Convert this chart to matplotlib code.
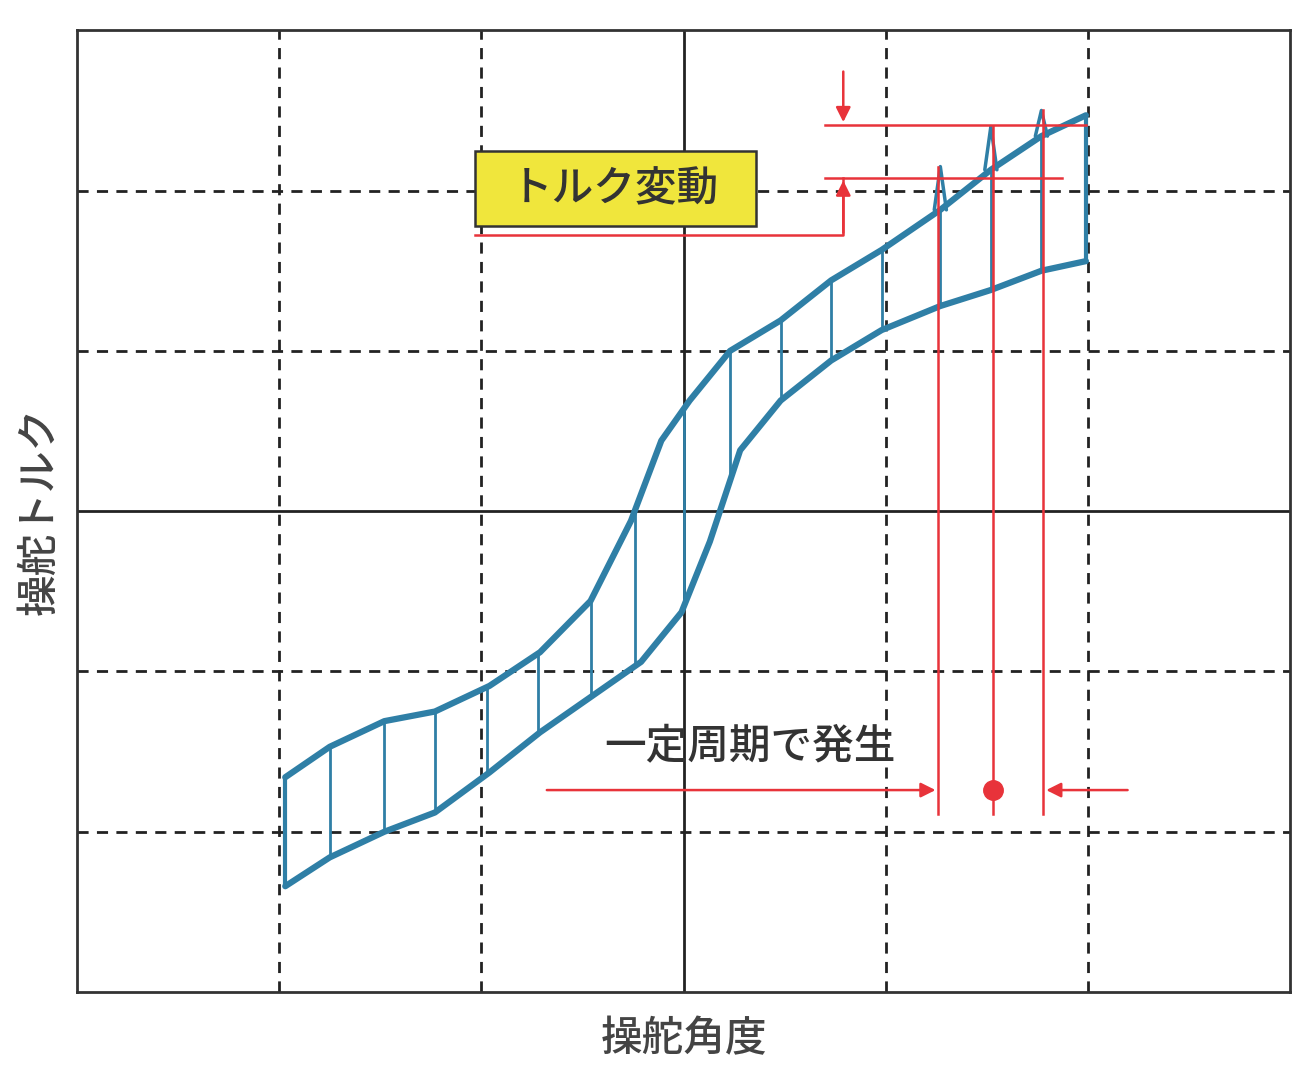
import numpy as np
import matplotlib.pyplot as plt
from matplotlib.patches import Rectangle

plt.rcParams['font.family'] = ['Noto Sans CJK JP', 'DejaVu Sans']

# hysteresis branches (grid units)
upper_x = [-1.97, -1.75, -1.48, -1.23, -0.96, -0.71, -0.46, -0.26, -0.11, 0.03, 0.23, 0.48, 0.73, 0.98, 1.27, 1.52, 1.77, 1.99]
upper_y = [-1.66, -1.47, -1.31, -1.25, -1.09, -0.88, -0.56, -0.06, 0.44, 0.69, 1.0, 1.19, 1.44, 1.63, 1.88, 2.13, 2.34, 2.47]
lower_x = [-1.97, -1.75, -1.48, -1.23, -0.96, -0.71, -0.46, -0.21, -0.01, 0.13, 0.28, 0.48, 0.73, 0.98, 1.27, 1.52, 1.77, 1.99]
lower_y = [-2.34, -2.16, -2.0, -1.88, -1.63, -1.38, -1.16, -0.94, -0.63, -0.19, 0.38, 0.69, 0.94, 1.13, 1.28, 1.38, 1.5, 1.56]
rung_x = [-1.75, -1.48, -1.23, -0.97, -0.72, -0.46, -0.24, 0.0, 0.23, 0.48, 0.73, 0.98, 1.27, 1.52, 1.77]
spike_x = [1.27, 1.52, 1.77]
spike_y = [2.15, 2.4, 2.5]
period_x = [1.26, 1.53, 1.78]

LINE = '#2f7fa6'
RED = '#e8333a'

fig = plt.figure(figsize=(13.1, 10.83), dpi=100)
ax = fig.add_axes([0.0588, 0.084, 0.926, 0.888])
ax.set_xlim(-3, 3)
ax.set_ylim(-3, 3)
ax.set_xticks([])
ax.set_yticks([])
for s in ax.spines.values():
    s.set_color('#333333')
    s.set_linewidth(2)

for v in [-2, -1, 1, 2]:
    ax.axvline(v, color='#222222', lw=2, ls=(0, (4, 3)), zorder=1)
    ax.axhline(v, color='#222222', lw=2, ls=(0, (4, 3)), zorder=1)
ax.axvline(0, color='#222222', lw=2, zorder=1)
ax.axhline(0, color='#222222', lw=2, zorder=1)

# loop
kw = dict(color=LINE, solid_joinstyle='round', solid_capstyle='round', zorder=3)
ax.plot(upper_x, upper_y, lw=4.5, **kw)
ax.plot(lower_x, lower_y, lw=4.5, **kw)
ax.plot([upper_x[0], lower_x[0]], [upper_y[0], lower_y[0]], lw=3, **kw)
ax.plot([upper_x[-1], lower_x[-1]], [upper_y[-1], lower_y[-1]], lw=3, **kw)
for rx in rung_x:
    yu = np.interp(rx, upper_x, upper_y)
    yl = np.interp(rx, lower_x, lower_y)
    ax.plot([rx, rx], [yl, yu], lw=2, **kw)
for sx, sy in zip(spike_x, spike_y):
    yu = np.interp(sx, upper_x, upper_y)
    ax.plot([sx - 0.03, sx, sx + 0.03], [yu, sy, yu], lw=2.5, **kw)

# torque variation annotation
ax.plot([0.70, 1.99], [2.41, 2.41], color=RED, lw=1.8, zorder=4)
ax.plot([0.70, 1.87], [2.08, 2.08], color=RED, lw=1.8, zorder=4)
ax.annotate('', xy=(0.79, 2.41), xytext=(0.79, 2.76),
            arrowprops=dict(arrowstyle='-|>', color=RED, lw=1.8, mutation_scale=22), zorder=4)
ax.annotate('', xy=(0.79, 2.08), xytext=(0.79, 1.72),
            arrowprops=dict(arrowstyle='-|>', color=RED, lw=1.8, mutation_scale=22), zorder=4)
ax.plot([0.79, 0.79, -1.03], [2.08, 1.72, 1.72], color=RED, lw=1.8, zorder=4)
ax.add_patch(Rectangle((-1.03, 1.78), 1.39, 0.47, facecolor='#f0e63c', edgecolor='#333333', lw=1.8, zorder=5))
ax.text(-0.34, 2.01, 'トルク変動', ha='center', va='center', fontsize=30, fontweight='medium', color='#333333', zorder=6)

# period annotation
for px, top in zip(period_x, spike_y):
    ax.plot([px, px], [top, -1.89], color=RED, lw=1.8, zorder=4)
ax.annotate('', xy=(period_x[0], -1.74), xytext=(-0.69, -1.74),
            arrowprops=dict(arrowstyle='-|>', color=RED, lw=1.8, mutation_scale=22), zorder=4)
ax.annotate('', xy=(period_x[2], -1.74), xytext=(2.21, -1.74),
            arrowprops=dict(arrowstyle='-|>', color=RED, lw=1.8, mutation_scale=22), zorder=4)
ax.plot([period_x[1]], [-1.74], 'o', color=RED, ms=14, zorder=5)
ax.text(0.33, -1.47, '一定周期で発生', ha='center', va='center', fontsize=30, fontweight='medium', color='#333333', zorder=6)

ax.set_xlabel('操舵角度', fontsize=30, fontweight='medium', color='#444444', labelpad=18)
ax.set_ylabel('操舵トルク', fontsize=30, fontweight='medium', color='#444444', labelpad=12)

fig.savefig('out.png', dpi=100)
